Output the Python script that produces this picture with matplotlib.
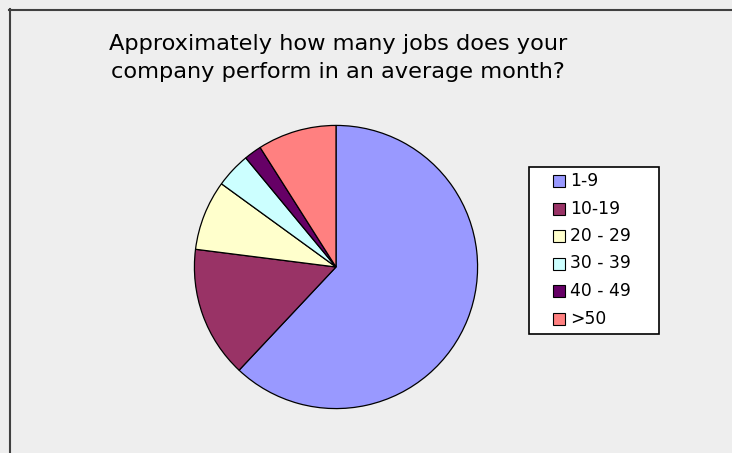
import matplotlib.pyplot as plt
from matplotlib.lines import Line2D
from matplotlib.patches import Rectangle

labels = ['1-9', '10-19', '20 - 29', '30 - 39', '40 - 49', '>50']
values = [62, 15, 8, 4, 2, 9]
colors = ['#9999FF', '#993366', '#FFFFCC', '#CCFFFF', '#660066', '#FF8080']
title = 'Approximately how many jobs does your\ncompany perform in an average month?'

W, H = 732, 453
fig = plt.figure(figsize=(W / 100, H / 100), dpi=100)
fig.patch.set_facecolor('#EEEEEE')
plt.rcParams['font.family'] = ['DejaVu Sans']

# frame lines on the left and top edge
fig.add_artist(Line2D([9.5 / W, 9.5 / W], [0, 1 - 9 / H], color='#404040', lw=1.5))
fig.add_artist(Line2D([9 / W, 1], [1 - 9.5 / H, 1 - 9.5 / H], color='#404040', lw=1.5))

# pie axes: centre (336, 267), radius 143 px
cx, cy, r = 336, 267, 143
ax = fig.add_axes([(cx - r) / W, (H - cy - r) / H, 2 * r / W, 2 * r / H])
ax.pie(values, colors=colors, startangle=90, counterclock=False, radius=1,
       wedgeprops=dict(edgecolor='black', linewidth=0.9))
ax.set_xlim(-1.01, 1.01)
ax.set_ylim(-1.01, 1.01)
ax.set_aspect('equal')
ax.axis('off')

fig.text(338 / W, 1 - 58 / H, title, ha='center', va='center', fontsize=16.2,
         linespacing=1.55)

# legend box drawn by hand (Excel style: wide padding)
fig.add_artist(Rectangle((529 / W, 1 - 334 / H), 130 / W, 167 / H,
                         transform=fig.transFigure, facecolor='white',
                         edgecolor='black', linewidth=1.2))
for i, (lab, c) in enumerate(zip(labels, colors)):
    y = 181 + i * 27.5
    fig.add_artist(Rectangle((553 / W, 1 - (y + 6) / H), 12 / W, 12 / H,
                             transform=fig.transFigure, facecolor=c,
                             edgecolor='black', linewidth=0.8))
    fig.text(570 / W, 1 - y / H, lab, ha='left', va='center', fontsize=12.3)

fig.savefig('out.png', dpi=100, facecolor=fig.get_facecolor())
